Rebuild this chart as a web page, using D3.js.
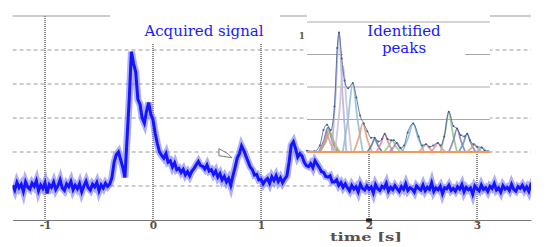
<!DOCTYPE html>
<html>
<head>
<meta charset="utf-8">
<script src="https://cdn.jsdelivr.net/npm/d3@7"></script>
<style>
  body { margin: 0; background: #fff; }
  svg { display: block; }
</style>
</head>
<body>
<script>
// ---- data ----
var timeStart = -1.3, timeStep = 0.02;
var xTicks = [-1, 0, 1, 2, 3];
var yGrid = [1, 2, 3, 4, 5];

// acquired signal, one value every 20 ms from -1.3 s
var signal = [
  1.02, 0.88, 1.10, 0.95, 1.05, 0.84, 1.12, 0.97, 0.91, 1.08,
  0.99, 1.15, 0.86, 1.03, 0.93, 1.09, 0.78, 1.04, 0.96, 1.11,
  0.90, 1.01, 1.18, 0.94, 0.87, 1.06, 0.98, 1.13, 0.89, 1.02,
  0.92, 1.07, 0.83, 1.00, 1.14, 0.95, 0.88, 1.05, 0.97, 1.10,
  0.86, 1.03, 0.94, 1.08, 0.99, 1.06,
  1.25, 1.70, 1.92, 2.00, 1.78, 1.55, 1.25, 2.40, 3.55, 4.95,
  4.60, 4.35, 3.55, 3.40, 3.00, 2.85, 3.20, 3.45, 3.10, 2.95,
  2.55, 2.25, 2.00, 1.90, 1.82, 1.95, 1.70, 1.74, 1.56, 1.68,
  1.48, 1.52, 1.40, 1.49, 1.33, 1.42, 1.30, 1.44, 1.52, 1.62,
  1.72, 1.60, 1.58, 1.50, 1.62, 1.44, 1.48, 1.34, 1.44, 1.26,
  1.36, 1.18, 1.28, 1.12, 1.22, 1.02, 1.30, 1.55, 1.82, 1.95,
  2.18, 2.05, 1.88, 1.72, 1.56, 1.48, 1.32, 1.34, 1.18, 1.20,
  1.06, 1.16, 1.22, 1.08, 1.27, 1.16, 1.30, 1.13, 1.24, 1.10,
  1.21, 1.30, 1.70, 2.20, 2.30, 2.10, 1.85, 1.95, 1.88, 1.70,
  1.60, 1.57, 1.66, 1.54, 1.74, 1.64, 1.54, 1.42, 1.40, 1.28,
  1.26, 1.30, 1.12, 1.12, 1.18, 1.02, 1.10, 0.96, 1.06,
  0.95, 0.86, 1.02, 0.91, 0.98, 0.83, 1.05, 0.93, 0.88, 1.00,
  0.90, 0.97, 0.80, 1.04, 0.92, 0.87, 0.99, 0.94, 1.08, 0.85,
  0.96, 0.89, 1.01, 0.92, 0.84, 0.98, 0.90, 1.06, 0.87, 0.95,
  0.91, 0.82, 1.00, 0.93, 0.88, 1.03, 0.86, 0.96, 0.90, 1.09,
  0.84, 0.94, 0.89, 0.99, 0.78, 0.95, 0.92, 1.02, 0.87, 0.93,
  0.85, 0.98, 0.91, 1.04, 0.83, 0.96, 0.89, 0.94, 0.76, 1.00,
  0.92, 0.86, 1.03, 0.90, 0.95, 0.84, 0.99, 0.93, 1.07, 0.88,
  0.94, 0.82, 1.01, 0.91, 0.96, 0.87, 1.05, 0.90, 0.85, 0.98,
  0.93, 1.02, 0.88, 0.97, 0.84, 1.06, 1.12, 1.30
];

// identified peaks (inset): [position, height] outlines
var peaks = [
  [[6.5,0],[9.3,0.09],[11.5,0.19],[13.7,0.09],[16.5,0]],
  [[7,0],[9.8,0.08],[12,0.17],[14.2,0.08],[17,0]],
  [[7,0],[10,0.07],[12.5,0.15],[15,0.07],[18,0]],
  [[6.5,0],[9,0.06],[11,0.13],[13,0.06],[15.5,0]],
  [[13.5,0],[15.7,0.46],[17.5,0.92],[19.3,0.46],[21.5,0]],
  [[15.3,0],[17.8,0.33],[19.8,0.66],[21.8,0.33],[24.3,0]],
  [[19.5,0],[22.5,0.26],[25,0.53],[27.5,0.26],[30.5,0]],
  [[25.5,0],[28.3,0.11],[30.5,0.22],[32.7,0.11],[35.5,0]],
  [[33,0],[35.2,0.05],[37,0.10],[38.8,0.05],[41,0]],
  [[38,0],[40.5,0.07],[42.5,0.14],[44.5,0.07],[47,0]],
  [[42,0],[44.5,0.045],[46.5,0.09],[48.5,0.045],[51,0]],
  [[45,0],[47.2,0.035],[49,0.07],[50.8,0.035],[53,0]],
  [[52,0],[55.3,0.11],[58,0.22],[60.7,0.11],[64,0]],
  [[61,0],[63.2,0.03],[65,0.06],[66.8,0.03],[69,0]],
  [[67.5,0],[69.7,0.035],[71.5,0.07],[73.3,0.035],[75.5,0]],
  [[73,0],[75.5,0.155],[77.5,0.31],[79.5,0.155],[82,0]],
  [[77.5,0],[80,0.09],[82,0.18],[84,0.09],[86.5,0]],
  [[83,0],[85.5,0.07],[87.5,0.14],[89.5,0.07],[92,0]],
  [[87.5,0],[89.7,0.03],[91.5,0.06],[93.3,0.03],[95.5,0]],
  [[92,0],[94,0.018],[95.5,0.035],[97,0.018],[99,0]]
];
var peakColors = ["#4a7fb5", "#e98b55", "#8ac26d", "#e58fa8", "#b4aed0",
  "#c5bfd8", "#8fbdd6", "#eb9a6c", "#5473a8", "#e0869a", "#9ccc7a",
  "#9b86c0", "#86bedb", "#eb9a6c", "#e58fa8", "#93c47d", "#8a7dbb",
  "#6a8fc0", "#eb9a6c", "#86bedb"];

// sum of the peaks, as drawn in the inset
var sumX = [0, 4, 7, 9, 11, 13, 15, 16.5, 17.5, 19, 20.5, 22.5, 25, 27, 29,
  31, 33, 35, 37, 39, 41, 42.5, 44, 46, 47.5, 49, 51, 53, 55, 58, 61, 63, 65,
  67, 69, 71.5, 73, 75, 77.5, 80, 82, 84, 86, 87.5, 89, 91, 93, 95.5, 97, 99];
var sumY = [0.01, 0.005, 0.05, 0.17, 0.21, 0.17, 0.35, 0.8, 0.92, 0.72, 0.55,
  0.49, 0.53, 0.42, 0.28, 0.22, 0.16, 0.11, 0.11, 0.08, 0.1, 0.14, 0.1, 0.09,
  0.09, 0.07, 0.03, 0.05, 0.15, 0.22, 0.12, 0.05, 0.06, 0.04, 0.05, 0.07, 0.05,
  0.12, 0.31, 0.2, 0.18, 0.13, 0.12, 0.14, 0.09, 0.06, 0.04, 0.035, 0.01, 0.005];

// ---- chart ----
var width = 559, height = 247;
var svg = d3.select("body").append("svg")
    .attr("width", width)
    .attr("height", height);

var x = d3.scaleLinear().domain([-1.3, 3.5]).range([12.6, 531]);
var y = d3.scaleLinear().domain([0, 6]).range([220, 16]);

// horizontal dashed grid
svg.selectAll("line.hgrid")
    .data(yGrid)
  .enter().append("line")
    .attr("class", "hgrid")
    .attr("x1", x.range()[0]).attr("x2", x.range()[1])
    .attr("y1", function(d) { return y(d); })
    .attr("y2", function(d) { return y(d); })
    .attr("stroke", "#9a9a9a")
    .attr("stroke-dasharray", "4,3");

// top frame line
svg.append("line")
    .attr("x1", x.range()[0]).attr("x2", x.range()[1])
    .attr("y1", y(6)).attr("y2", y(6))
    .attr("stroke", "#999");

// vertical dotted grid
svg.selectAll("line.vgrid")
    .data(xTicks)
  .enter().append("line")
    .attr("class", "vgrid")
    .attr("x1", function(d) { return x(d); })
    .attr("x2", function(d) { return x(d); })
    .attr("y1", y(6)).attr("y2", y(0) + 3)
    .attr("stroke", "#8a8a8a")
    .attr("stroke-width", 2)
    .attr("stroke-dasharray", "1,1");

// x axis
var axis = svg.append("g")
    .attr("transform", "translate(0," + y(0) + ")")
    .call(d3.axisBottom(x).tickValues(xTicks).tickSize(0).tickPadding(2)
      .tickFormat(d3.format("d")));
axis.select(".domain").attr("stroke", "#777");
axis.selectAll("text")
    .attr("font-family", "DejaVu Serif")
    .attr("font-weight", "bold")
    .attr("font-size", 10.5)
    .attr("fill", "#5a5048")
    .text(function(d) { return d < 0 ? "-" + Math.abs(d) : d; });

svg.append("rect")
    .attr("x", x(2) - 3).attr("y", y(0) - 1.5)
    .attr("width", 6).attr("height", 3)
    .attr("fill", "#222");

svg.append("text")
    .attr("x", x(2) - 3).attr("y", 241)
    .attr("text-anchor", "middle")
    .attr("font-family", "DejaVu Serif")
    .attr("font-weight", "bold")
    .attr("font-size", 10.5)
    .attr("textLength", 72)
    .attr("lengthAdjust", "spacingAndGlyphs")
    .attr("fill", "#5a5048")
    .text("time [s]");

// signal
var sigPts = signal.map(function(v, i) { return [timeStart + i * timeStep, v]; });
var sigLine = d3.line()
    .x(function(d) { return x(d[0]); })
    .y(function(d) { return y(d[1]); });

svg.append("defs").append("clipPath").attr("id", "plot")
  .append("rect")
    .attr("x", x.range()[0]).attr("y", 0)
    .attr("width", x.range()[1] - x.range()[0]).attr("height", y(0));

var sig = svg.append("g").attr("clip-path", "url(#plot)");
sig.append("path")
    .datum(sigPts)
    .attr("d", sigLine)
    .attr("fill", "none")
    .attr("stroke", "#7a7aff")
    .attr("stroke-opacity", 0.6)
    .attr("stroke-width", 7);
sig.append("path")
    .datum(sigPts)
    .attr("d", sigLine)
    .attr("fill", "none")
    .attr("stroke", "#1414ff")
    .attr("stroke-width", 3);

// small pointer glyph on the signal
var px = x(0.61), py = y(1.98);
svg.append("path")
    .attr("d", "M" + px + "," + (py - 4) + " L" + px + "," + (py + 3) +
      " L" + (px + 13) + "," + (py + 5) + " L" + (px + 9) + "," + (py + 1) + " Z")
    .attr("fill", "#fff")
    .attr("stroke", "#777")
    .attr("stroke-width", 1);

// label box: acquired signal
svg.append("rect")
    .attr("x", 110).attr("y", 0)
    .attr("width", 170).attr("height", 44)
    .attr("fill", "#fff");
svg.append("text")
    .attr("x", 204).attr("y", 36)
    .attr("text-anchor", "middle")
    .attr("font-family", "DejaVu Serif")
    .attr("font-size", 15)
    .attr("fill", "#1a1aff")
    .text("Acquired signal");

// ---- inset: identified peaks ----
var ix = d3.scaleLinear().domain([0, 100]).range([307, 490]);
var iy = d3.scaleLinear().domain([0, 1]).range([152, 22]);

var inset = svg.append("g");
inset.append("rect")
    .attr("x", ix(0)).attr("y", iy(1) - 9)
    .attr("width", ix(100) - ix(0)).attr("height", iy(0) - iy(1) + 11)
    .attr("fill", "#fff");

inset.selectAll("line.igrid")
    .data([0.25, 0.5, 0.75, 1])
  .enter().append("line")
    .attr("class", "igrid")
    .attr("x1", ix(0)).attr("x2", ix(100))
    .attr("y1", function(d) { return iy(d); })
    .attr("y2", function(d) { return iy(d); })
    .attr("stroke", "#a8a8a8");

inset.append("text")
    .attr("x", ix(0) - 2).attr("y", iy(0.87))
    .attr("text-anchor", "end")
    .attr("font-family", "DejaVu Serif")
    .attr("font-weight", "bold")
    .attr("font-size", 9)
    .attr("fill", "#6a5a40")
    .text("1");

var peakLine = d3.line()
    .x(function(d) { return ix(d[0]); })
    .y(function(d) { return iy(d[1]); })
    .curve(d3.curveMonotoneX);

inset.selectAll("path.peak")
    .data(peaks)
  .enter().append("path")
    .attr("class", "peak")
    .attr("d", peakLine)
    .attr("fill", "none")
    .attr("stroke", function(d, i) { return peakColors[i]; })
    .attr("stroke-width", 1.8)
    .attr("stroke-opacity", 0.85);

var sumPts = sumX.map(function(v, i) { return [v, sumY[i]]; });
inset.append("path")
    .datum(sumPts)
    .attr("d", peakLine)
    .attr("fill", "none")
    .attr("stroke", "#3d5c96")
    .attr("stroke-width", 1)
    .attr("stroke-opacity", 0.8);
inset.selectAll("circle.sum")
    .data(sumPts)
  .enter().append("circle")
    .attr("class", "sum")
    .attr("cx", function(d) { return ix(d[0]); })
    .attr("cy", function(d) { return iy(d[1]); })
    .attr("r", 1)
    .attr("fill", "#3d5c96");

inset.append("line")
    .attr("x1", ix(0)).attr("x2", ix(100))
    .attr("y1", iy(0)).attr("y2", iy(0))
    .attr("stroke", "#f09a5c")
    .attr("stroke-width", 2);

// label box: identified peaks
inset.append("rect")
    .attr("x", 343).attr("y", 23)
    .attr("width", 122).attr("height", 35)
    .attr("fill", "#fff");
inset.append("text")
    .attr("x", 404).attr("y", 36)
    .attr("text-anchor", "middle")
    .attr("font-family", "DejaVu Serif")
    .attr("font-size", 15)
    .attr("fill", "#1a1aff")
    .selectAll("tspan")
    .data(["Identified", "peaks"])
  .enter().append("tspan")
    .attr("x", 404)
    .attr("dy", function(d, i) { return i ? 17 : 0; })
    .text(function(d) { return d; });
</script>
</body>
</html>
